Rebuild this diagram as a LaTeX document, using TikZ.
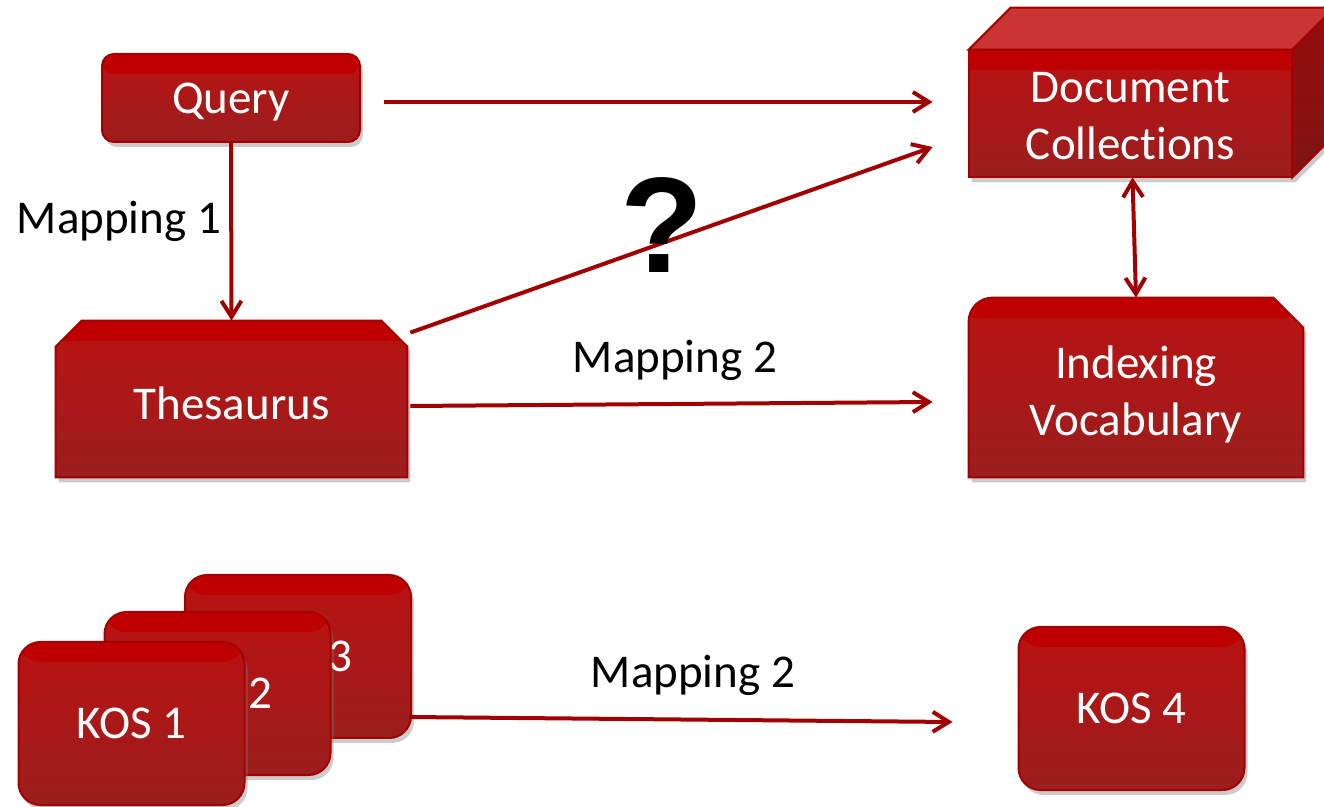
\documentclass[tikz,border=0pt]{standalone}
\usepackage{fontspec}
\setmainfont{Carlito}[Ligatures=NoCommon]
\newfontfamily\qmarkfont{Liberation Sans}
\usepackage{xcolor}
\usepackage{tikz}
\usetikzlibrary{arrows.meta,positioning,calc,shadows,backgrounds}

\definecolor{mapred}{RGB}{160,0,0}
\definecolor{boxline}{RGB}{165,0,0}
\definecolor{boxband}{RGB}{190,0,0}
\definecolor{boxhigh}{RGB}{186,18,18}
\definecolor{boxlow}{RGB}{155,30,30}
\definecolor{cubetop}{RGB}{203,52,52}
\definecolor{sidehigh}{RGB}{150,12,12}
\definecolor{sidelow}{RGB}{128,20,20}

\tikzset{
  boxfill/.style={draw=boxline, line width=1pt, top color=boxhigh, bottom color=boxlow,
    path picture={\fill[boxband] (path picture bounding box.north west) rectangle ([yshift=-10pt]path picture bounding box.north east);}},
  boxshadow/.style={drop shadow={shadow xshift=1.5pt, shadow yshift=-2.5pt, opacity=0.4}},
  boxtext/.style={text=white, align=center, inner sep=0pt},
  oneline/.style={text height=#1, text depth=0pt},
  oneline/.default=15.5pt,
  kosbox/.style={boxfill, boxshadow, boxtext, oneline, rounded corners=11pt, minimum width=113pt, minimum height=81.5pt},
  maparrow/.style={draw=mapred, line width=2pt, >={Straight Barb[length=8pt,width=10pt]}, ->},
  maplabel/.style={text=black, inner sep=0pt}
}

\begin{document}
\begin{tikzpicture}[x=0.5pt, y=-0.5pt, font=\fontsize{23.5pt}{28.5pt}\selectfont]
        \useasboundingbox (0,0) rectangle (1324,807);

        % Query box
        \node (q) [boxfill, boxshadow, boxtext, oneline=16pt, rounded corners=6pt, minimum width=129pt, minimum height=44pt] at (231,98) {Query};

        % Boxes whose shapes are drawn behind them
        \node (doc) [boxtext, minimum width=161.5pt, minimum height=63.5pt] at (1130.5,113.5) {Document\rule{0pt}{18pt}\\Collect\kern0pt ions};
        \node (thes) [boxtext, oneline=21pt, minimum width=175.5pt, minimum height=78pt] at (231.5,399) {Thesaurus};
        \node (idx) [boxtext, minimum width=167pt, minimum height=89.5pt] at (1136,387.5) {Indexing\rule{0pt}{23.5pt}\\Vocabulary};

        \begin{scope}[on background layer]
            % Document collections as a block
            \path[fill=boxline, boxshadow] (doc.south west) -- (doc.north west) -- ++(42,-42) -- ($(doc.north east)+(42,-42)$) -- ($(doc.south east)+(42,-42)$) -- (doc.south east) -- cycle;
            \filldraw[fill=cubetop, draw=boxline, line width=1pt] (doc.north west) -- ++(42,-42) -- ($(doc.north east)+(42,-42)$) -- (doc.north east) -- cycle;
            \path[draw=boxline, line width=1pt, top color=sidehigh, bottom color=sidelow] (doc.north east) -- ++(42,-42) -- ($(doc.south east)+(42,-42)$) -- (doc.south east) -- cycle;
            \path[boxfill] (doc.south west) rectangle (doc.north east);

            % Thesaurus with cut top corners
            \path[boxfill, boxshadow] (thes.south west) -- ($(thes.north west)+(0,26)$) -- ($(thes.north west)+(26,0)$) -- ($(thes.north east)+(-26,0)$) -- ($(thes.north east)+(0,26)$) -- (thes.south east) -- cycle;

            % Indexing vocabulary: one round corner, one cut corner
            \path[boxfill, boxshadow] (idx.south west) [rounded corners=12pt] -- (idx.north west) [sharp corners] -- ($(idx.north east)+(-30,0)$) -- ($(idx.north east)+(0,30)$) -- (idx.south east) -- cycle;
        \end{scope}

        % Stack of KOS boxes
        \node (kos3) [kosbox] at (298,656.5) {KOS 3};
        \node (kos2) [kosbox] at (217.5,693.5) {KOS 2};
        \node (kos1) [kosbox] at (131.5,723.5) {KOS 1};
        \node (kos4) [kosbox] at (1131.5,708.5) {KOS 4};

        % Arrows
        \draw[maparrow] ([shift={(23,4)}]q.east) -- ([shift={(-36,-11.5)}]doc.west);
        \draw[maparrow] ([shift={(3,12)}]thes.north east) -- ([shift={(-36,33.5)}]doc.west);
        \draw[maparrow] ([shift={(3,7)}]thes.east) -- ([shift={(-36,14.5)}]idx.west);
        \draw[maparrow] (q.south) -- (thes.north);
        \draw[maparrow, <->] ([xshift=1pt]doc.south) -- (idx.north);
        \draw[maparrow] ([shift={(-3,-22)}]kos3.south east) -- ([shift={(-65,13.5)}]kos4.west);

        % Labels
        \node (mapqt) [maplabel] at (119,221) {Mapping 1};
        \node (mapti) [maplabel] at (675,360) {Mapping 2};
        \node (mapkk) [maplabel] at (693,675) {Mapping 2};
        \node (qmark) [maplabel, font=\qmarkfont\bfseries\fontsize{68pt}{68pt}\selectfont] at (662,225) {?};

    \end{tikzpicture}
\end{document}
